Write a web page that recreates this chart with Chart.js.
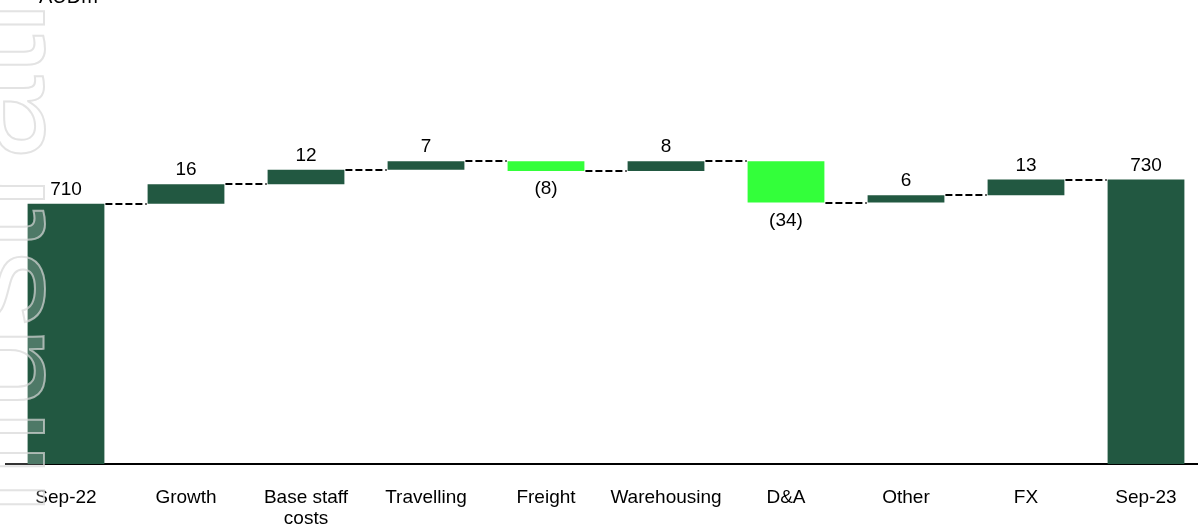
<!DOCTYPE html>
<html>
<head>
<meta charset="utf-8">
<title>AUDm bridge Sep-22 to Sep-23</title>
<script src="https://cdn.jsdelivr.net/npm/chart.js@4.4.1/dist/chart.umd.min.js"></script>
<style>
  html, body { margin: 0; padding: 0; background: #ffffff; overflow: hidden; }
  #wrap { position: relative; width: 1206px; height: 526px; }
</style>
</head>
<body>
<div id="wrap"><canvas id="chart"></canvas></div>
<script>
// Bridge from opening to closing balance (AUDm)
const categories = ['Sep-22', 'Growth', ['Base staff', 'costs'], 'Travelling', 'Freight',
                    'Warehousing', 'D&A', 'Other', 'FX', 'Sep-23'];
const openingValue = 710;
const closingValue = 730;
const changes = [16, 12, 7, -8, 8, -34, 6, 13];
const unitLabel = 'AUDm';
const watermarkText = 'Illustrative';

const axisMin = 496;
const axisMax = 876;

const DARK = '#225841';
const BRIGHT = '#33FF3A';

// Build floating [low, high] bars and the running level after each bar
const floating = [];
const levels = [];
const colors = [];
const labels = [];
floating.push([axisMin, openingValue]);
levels.push(openingValue);
colors.push(DARK);
labels.push(String(openingValue));
let running = openingValue;
changes.forEach(c => {
  const next = running + c;
  floating.push([Math.min(running, next), Math.max(running, next)]);
  colors.push(c < 0 ? BRIGHT : DARK);
  labels.push(c < 0 ? '(' + Math.abs(c) + ')' : String(c));
  running = next;
  levels.push(running);
});
floating.push([axisMin, closingValue]);
levels.push(closingValue);
colors.push(DARK);
labels.push(String(closingValue));
const isNegative = [false, ...changes.map(c => c < 0), false];

const FONT = '"Liberation Sans", Arial, sans-serif';

// Dashed connectors, value labels, unit caption and watermark
const bridgeDecor = {
  id: 'bridgeDecor',
  afterDatasetsDraw(chart) {
    const ctx = chart.ctx;
    const meta = chart.getDatasetMeta(0);
    const y = chart.scales.y;
    ctx.save();
    // connectors
    ctx.strokeStyle = '#000000';
    ctx.lineWidth = 2;
    ctx.setLineDash([7, 3]);
    for (let i = 0; i < meta.data.length - 1; i++) {
      const a = meta.data[i], b = meta.data[i + 1];
      const py = Math.round(y.getPixelForValue(levels[i]));
      ctx.beginPath();
      ctx.moveTo(a.x + a.width / 2 + 1, py);
      ctx.lineTo(b.x - b.width / 2 - 1, py);
      ctx.stroke();
    }
    ctx.setLineDash([]);
    // value labels
    ctx.fillStyle = '#000000';
    ctx.font = '19px ' + FONT;
    ctx.textAlign = 'center';
    ctx.textBaseline = 'alphabetic';
    meta.data.forEach((bar, i) => {
      const top = Math.min(bar.y, bar.base);
      const bottom = Math.max(bar.y, bar.base);
      if (isNegative[i]) {
        ctx.fillText(labels[i], bar.x, bottom + 23);
      } else {
        ctx.fillText(labels[i], bar.x, top - 9);
      }
    });
    // unit caption
    ctx.textAlign = 'left';
    ctx.font = '20px ' + FONT;
    ctx.fillText(unitLabel, 39, 3);
    ctx.restore();
  },
  afterDraw(chart) {
    // faint outlined watermark running up the left edge
    const ctx = chart.ctx;
    ctx.save();
    ctx.translate(44, 518);
    ctx.rotate(-Math.PI / 2);
    ctx.font = '150px ' + FONT;
    ctx.textAlign = 'left';
    ctx.textBaseline = 'alphabetic';
    ctx.fillStyle = 'rgba(255,255,255,0.2)';
    ctx.fillText(watermarkText, 0, 0);
    ctx.strokeStyle = 'rgba(215,215,215,0.7)';
    ctx.lineWidth = 2;
    ctx.strokeText(watermarkText, 0, 0);
    ctx.restore();
  }
};

new Chart(document.getElementById('chart'), {
  type: 'bar',
  data: {
    labels: categories,
    datasets: [{
      data: floating,
      backgroundColor: colors,
      borderWidth: 0,
      borderSkipped: false,
      categoryPercentage: 1,
      barPercentage: 0.64
    }]
  },
  options: {
    responsive: true,
    maintainAspectRatio: false,
    animation: false,
    layout: { padding: { left: 6, right: 0, top: 2, bottom: 0 } },
    plugins: { legend: { display: false }, tooltip: { enabled: false } },
    scales: {
      x: {
        grid: { display: false, drawTicks: false },
        border: { display: true, color: '#000000', width: 2 },
        ticks: {
          color: '#000000',
          padding: 23,
          maxRotation: 0,
          autoSkip: false,
          font: { family: FONT, size: 19, lineHeight: 1.1 }
        },
        afterFit(scale) { scale.height = 62; }
      },
      y: {
        display: false,
        min: axisMin,
        max: axisMax
      }
    }
  },
  plugins: [bridgeDecor]
});
</script>
</body>
</html>
